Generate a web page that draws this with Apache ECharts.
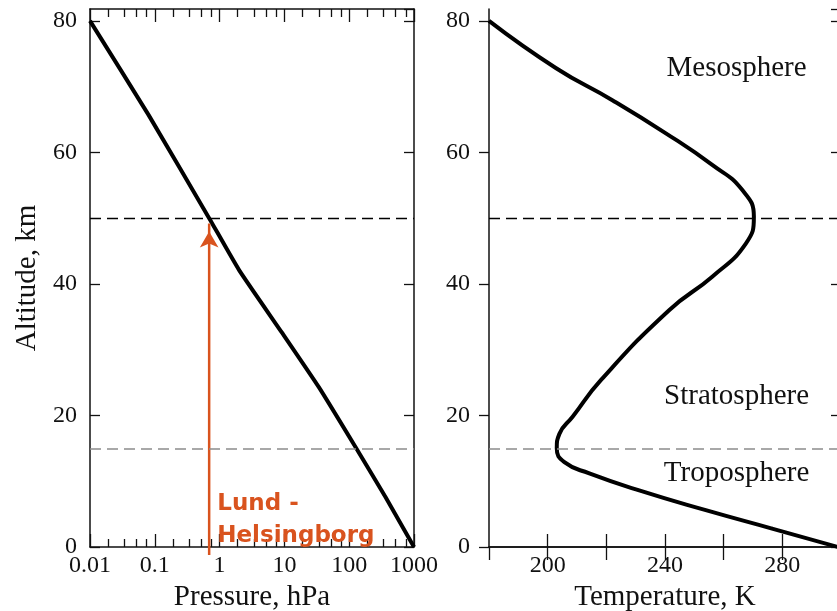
<!DOCTYPE html>
<html>
<head>
<meta charset="utf-8">
<script src="https://cdn.jsdelivr.net/npm/echarts@6/dist/echarts.min.js"></script>
<style>
  html, body { margin: 0; background: #fff; }
  #chart { width: 837px; height: 611px; }
</style>
</head>
<body>
<div id="chart"></div>
<script>
// left panel: pressure vs altitude
const pressureAlt = [0, 7.6, 15.2, 24.3, 32.5, 42.1, 50, 65.7, 80];
const pressureHpa = [1000, 363, 125, 34, 9.3, 2.0, 0.69, 0.08, 0.01];
const pressureTicks = [0.01, 0.1, 1, 10, 100, 1000];
const pressureTickLabels = ['0.01', '0.1', '1', '10', '100', '1000'];
const minorFactors = [1.9, 3.4, 5.2, 7.5];

// right panel: temperature vs altitude
const tempAlt = [0, 2.8, 5.6, 8.6, 11.2, 12.9, 15, 17.2, 19.8, 25.4, 36, 41.1, 46.1, 50.2, 54.3, 58.1, 62.9, 67.9, 72.8, 80];
const tempK = [299, 276.5, 253.9, 231.2, 214.2, 205.7, 203.1, 204, 208.5, 218.2, 241.4, 256.1, 267.5, 270.3, 266.3, 256.1, 240.3, 222.2, 202.9, 180];

// boundaries (km)
const stratopause = 50;
const tropopause = 15;

// layer names placed at [K, km]
const layerNames = ['Mesosphere', 'Stratosphere', 'Troposphere'];
const layerT = [264.4, 264.4, 264.4];
const layerAlt = [72.8, 22.9, 11.2];

// arrow: Lund - Helsingborg
const arrowP = 0.69;
const arrowFrom = -1.2;
const arrowTo = 49.2;
const cityLabel = 'Lund -\nHelsingborg';
const cityAt = [0.92, 4.1];

const minorTicks = [];
pressureTicks.slice(0, -1).forEach(d => minorFactors.forEach(f => minorTicks.push(+(d * f).toPrecision(3))));

const serif = 'Liberation Serif';
const ink = '#111';
const orange = '#d9531e';
const axisLine = { show: true, lineStyle: { color: ink, width: 1.5 } };

function logAxis(pos, ticks, len, line, labels) {
  return {
    type: 'log', logBase: 10, gridIndex: 0, position: pos,
    min: 0.01, max: 1000,
    axisLine: line ? axisLine : { show: false },
    axisTick: { show: true, inside: true, length: len, customValues: ticks, lineStyle: { color: ink, width: 1.3 } },
    axisLabel: labels ? {
      show: true, customValues: pressureTicks, margin: 7,
      fontFamily: serif, fontSize: 24, color: ink,
      formatter: v => pressureTickLabels[Math.round(Math.log10(v)) + 2]
    } : { show: false },
    splitLine: { show: false }
  };
}

function altAxis(grid, pos, labels, inside, margin) {
  return {
    type: 'value', gridIndex: grid, position: pos,
    min: 0, max: 81.8, interval: 20,
    axisLine: axisLine,
    axisTick: { show: true, inside: inside, length: 10, lineStyle: { color: ink, width: 1.3 } },
    axisLabel: labels ? {
      show: true, margin: margin, showMaxLabel: false,
      fontFamily: serif, fontSize: 24, color: ink,
      formatter: v => (v % 20 === 0 ? String(v) : '')
    } : { show: false },
    splitLine: { show: false },
    name: grid === 0 && pos === 'left' ? 'Altitude, km' : '',
    nameLocation: 'middle', nameGap: 48,
    nameTextStyle: { fontFamily: serif, fontSize: 29, color: ink }
  };
}

function tempAxis(pos, labels) {
  return {
    type: 'value', gridIndex: 1, position: pos,
    min: 180, max: 300, interval: 20,
    axisLine: axisLine,
    axisTick: { show: true, inside: true, length: 13, lineStyle: { color: ink, width: 1.3 } },
    axisLabel: labels ? {
      show: true, margin: 7, showMinLabel: false,
      fontFamily: serif, fontSize: 24, color: ink,
      formatter: v => (v % 40 === 0 ? String(v) : '')
    } : { show: false },
    splitLine: { show: false },
    name: labels ? 'Temperature, K' : '',
    nameLocation: 'middle', nameGap: 34,
    nameTextStyle: { fontFamily: serif, fontSize: 29, color: ink }
  };
}

const bottomMain = logAxis('bottom', pressureTicks, 13, true, true);
bottomMain.name = 'Pressure, hPa';
bottomMain.nameLocation = 'middle';
bottomMain.nameGap = 34;
bottomMain.nameTextStyle = { fontFamily: serif, fontSize: 29, color: ink };

const boundaryLines = {
  symbol: 'none', silent: true, label: { show: false },
  data: [
    { yAxis: stratopause, lineStyle: { color: '#000', width: 1.4, type: [11, 6], opacity: 1 } },
    { yAxis: tropopause, lineStyle: { color: '#8c8c8c', width: 1.5, type: [11, 6], opacity: 1 } }
  ]
};

const option = {
  animation: false,
  backgroundColor: '#fff',
  grid: [
    { left: 90, top: 9, width: 324, height: 538, outerBoundsMode: 'none', containLabel: false },
    { left: 489, top: 9, width: 352, height: 538, outerBoundsMode: 'none', containLabel: false }
  ],
  xAxis: [
    bottomMain,
    logAxis('bottom', minorTicks, 8, false, false),
    logAxis('top', pressureTicks, 13, true, false),
    logAxis('top', minorTicks, 8, false, false),
    tempAxis('bottom', true),
    tempAxis('top', false)
  ],
  yAxis: [
    altAxis(0, 'left', true, true, 13),
    altAxis(0, 'right', false, true, 0),
    altAxis(1, 'left', true, false, 19),
    altAxis(1, 'right', false, true, 0)
  ],
  series: [
    {
      type: 'line', xAxisIndex: 0, yAxisIndex: 0,
      data: pressureAlt.map((a, i) => [pressureHpa[i], a]),
      showSymbol: false, smooth: 0.15,
      lineStyle: { color: '#000', width: 4 },
      markLine: boundaryLines
    },
    {
      type: 'line', xAxisIndex: 0, yAxisIndex: 0, clip: false,
      data: [
        { value: [arrowP, arrowFrom], symbol: 'none' },
        { value: [arrowP, arrowTo], symbol: 'arrow', symbolSize: [14, 16], symbolOffset: [0, 8] }
      ],
      showSymbol: true,
      lineStyle: { color: orange, width: 2.5 },
      itemStyle: { color: orange, opacity: 1 },
      z: 4
    },
    {
      type: 'scatter', xAxisIndex: 0, yAxisIndex: 0,
      data: [cityAt], symbolSize: 0, silent: true,
      itemStyle: { opacity: 1 },
      label: {
        show: true, position: 'inside', align: 'left', verticalAlign: 'middle',
        formatter: () => cityLabel, opacity: 1,
        fontFamily: 'DejaVu Sans', fontWeight: 'bold', fontSize: 23, lineHeight: 32,
        color: orange
      },
      z: 5
    },
    {
      type: 'line', xAxisIndex: 4, yAxisIndex: 2,
      data: tempAlt.map((a, i) => [tempK[i], a]),
      showSymbol: false, smooth: 0.5,
      lineStyle: { color: '#000', width: 4 },
      markLine: boundaryLines
    },
    {
      type: 'scatter', xAxisIndex: 4, yAxisIndex: 2,
      data: layerNames.map((n, i) => [layerT[i], layerAlt[i], n]),
      symbolSize: 0, silent: true,
      itemStyle: { opacity: 1 },
      label: {
        show: true, position: 'inside', align: 'center', verticalAlign: 'middle',
        formatter: p => p.value[2], opacity: 1,
        fontFamily: serif, fontSize: 29, color: ink
      }
    }
  ]
};

const chart = echarts.init(document.getElementById('chart'));
chart.setOption(option);
window.addEventListener('resize', () => chart.resize());
</script>
</body>
</html>
